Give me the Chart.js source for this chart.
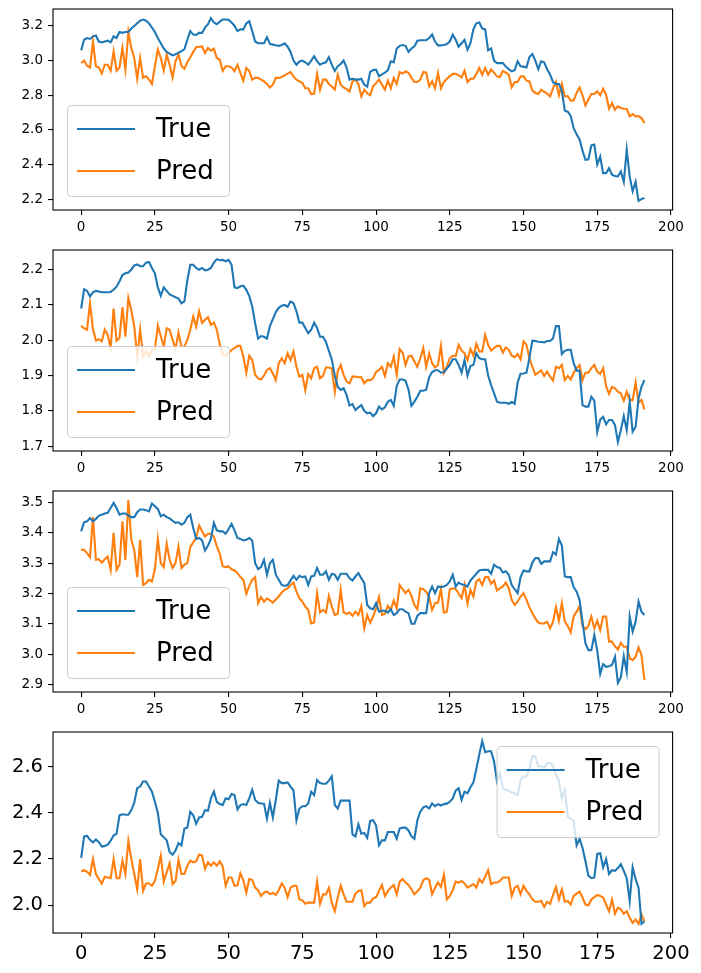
<!DOCTYPE html>
<html>
<head>
<meta charset="utf-8">
<script src="https://cdn.jsdelivr.net/npm/chart.js@4.4.1/dist/chart.umd.min.js"></script>
<style>
  html, body { margin: 0; padding: 0; background: #fff; }
  #fig { position: relative; width: 701px; height: 973px; overflow: hidden; }
  #fig canvas { position: absolute; left: 0; }
</style>
</head>
<body>
<div id="fig"></div>
<script>
// 192 time steps per panel
const steps = Array.from({ length: 192 }, (_, i) => i);
const xTicks = [0, 25, 50, 75, 100, 125, 150, 175, 200];

const yTicks1 = [2.2, 2.4, 2.6, 2.8, 3.0, 3.2];
const yTicks2 = [1.7, 1.8, 1.9, 2.0, 2.1, 2.2];
const yTicks3 = [2.9, 3.0, 3.1, 3.2, 3.3, 3.4, 3.5];
const yTicks4 = [2.0, 2.2, 2.4, 2.6];

const true1 = [
  3.06, 3.12, 3.13, 3.125, 3.14, 3.145, 3.11, 3.105, 3.11, 3.115,
  3.105, 3.14, 3.13, 3.165, 3.16, 3.165, 3.165, 3.185, 3.2, 3.215,
  3.23, 3.237, 3.23, 3.215, 3.19, 3.165, 3.13, 3.1, 3.07, 3.05,
  3.04, 3.03, 3.036, 3.045, 3.055, 3.065, 3.12, 3.17, 3.15, 3.148,
  3.16, 3.16, 3.19, 3.21, 3.245, 3.22, 3.21, 3.225, 3.237, 3.237,
  3.235, 3.22, 3.2, 3.17, 3.18, 3.18, 3.215, 3.227, 3.17, 3.11,
  3.1, 3.1, 3.1, 3.135, 3.096, 3.092, 3.088, 3.085, 3.09, 3.1,
  3.08, 3.05, 3.0, 2.976, 2.995, 3.0, 2.99, 2.976, 3.0, 3.025,
  2.996, 2.976, 2.985, 2.99, 3.02, 2.975, 2.94, 2.967, 2.98, 3.0,
  2.96, 2.89, 2.895, 2.89, 2.89, 2.895, 2.86, 2.85, 2.935, 2.945,
  2.948, 2.91, 2.92, 2.93, 2.945, 2.996, 2.99, 3.07, 3.085, 3.09,
  3.085, 3.05, 3.07, 3.082, 3.115, 3.117, 3.117, 3.118, 3.13, 3.15,
  3.11, 3.088, 3.088, 3.09, 3.095, 3.11, 3.15, 3.12, 3.08, 3.1,
  3.12, 3.063, 3.1, 3.18, 3.215, 3.22, 3.185, 3.18, 3.06, 3.07,
  3.0, 2.985, 2.985, 2.985, 2.965, 2.95, 2.938, 2.945, 2.996, 2.967,
  2.965, 2.96, 3.02, 3.038, 3.0, 2.95, 2.996, 2.99, 2.95, 2.92,
  2.875, 2.865, 2.865, 2.825, 2.71, 2.705, 2.68, 2.61, 2.575, 2.545,
  2.48, 2.427, 2.43, 2.51, 2.515, 2.4, 2.446, 2.35, 2.35, 2.378,
  2.341, 2.333, 2.331, 2.36, 2.3, 2.485, 2.33, 2.245, 2.3, 2.19,
  2.2, 2.206
];
const pred1 = [
  2.986, 3.0, 2.97, 2.96, 3.11, 2.967, 2.96, 2.925, 2.976, 2.976,
  2.942, 3.053, 2.942, 2.96, 3.073, 2.948, 3.165, 3.073, 3.015, 2.895,
  3.015, 2.9, 2.91, 2.89, 2.865, 2.967, 3.063, 3.015, 2.942, 3.034,
  2.976, 2.903, 2.996, 3.034, 2.97, 2.953, 2.99, 3.019, 3.05, 3.077,
  3.08, 3.082, 3.044, 3.073, 3.057, 3.069, 3.015, 3.005, 2.94, 2.967,
  2.967, 2.96, 2.938, 2.976, 2.928, 2.884, 2.957, 2.94, 2.89, 2.9,
  2.9, 2.89, 2.88, 2.865, 2.845, 2.861, 2.9, 2.9, 2.905, 2.915,
  2.925, 2.934, 2.909, 2.89, 2.88, 2.87, 2.84, 2.84, 2.807, 2.81,
  2.923, 2.832, 2.89, 2.89, 2.865, 2.85, 2.832, 2.919, 2.861, 2.845,
  2.835, 2.822, 2.88, 2.89, 2.865, 2.793, 2.832, 2.81, 2.8, 2.851,
  2.87, 2.89, 2.861, 2.832, 2.884, 2.84, 2.9, 2.865, 2.934, 2.925,
  2.938, 2.93, 2.9, 2.876, 2.876, 2.89, 2.934, 2.93, 2.851, 2.88,
  2.84, 2.928, 2.84, 2.876, 2.895, 2.909, 2.923, 2.923, 2.915, 2.903,
  2.942, 2.876, 2.895, 2.895, 2.923, 2.957, 2.919, 2.957, 2.919, 2.948,
  2.93, 2.909, 2.905, 2.94, 2.93, 2.919, 2.845, 2.876, 2.876, 2.909,
  2.909, 2.884, 2.88, 2.826, 2.813, 2.807, 2.832, 2.82, 2.81, 2.793,
  2.84, 2.876, 2.8, 2.865, 2.793, 2.795, 2.768, 2.77, 2.813, 2.845,
  2.8, 2.741, 2.775, 2.807, 2.807, 2.822, 2.8, 2.838, 2.803, 2.722,
  2.755, 2.716, 2.736, 2.726, 2.722, 2.72, 2.678, 2.691, 2.678, 2.68,
  2.668, 2.639
];

const true2 = [
  2.09, 2.145, 2.14, 2.124, 2.136, 2.14, 2.138, 2.136, 2.136, 2.136,
  2.137, 2.143, 2.152, 2.167, 2.185, 2.19, 2.192, 2.2, 2.212, 2.215,
  2.21, 2.21, 2.22, 2.222, 2.205, 2.19, 2.15, 2.126, 2.15, 2.14,
  2.13, 2.126, 2.122, 2.118, 2.105, 2.11, 2.17, 2.214, 2.214, 2.205,
  2.2, 2.205, 2.198, 2.2, 2.205, 2.22, 2.23, 2.227, 2.228, 2.224,
  2.228, 2.214, 2.15, 2.148, 2.153, 2.155, 2.143, 2.125, 2.096, 2.048,
  2.005, 2.012, 2.01, 2.005, 2.04, 2.06, 2.08, 2.092, 2.098, 2.1,
  2.095, 2.11, 2.105, 2.082, 2.05, 2.05, 2.035, 2.02, 2.03, 2.05,
  2.035, 2.01, 2.01, 1.995, 1.97, 1.945, 1.9, 1.868, 1.859, 1.864,
  1.845, 1.815, 1.819, 1.802, 1.81, 1.816, 1.8, 1.793, 1.795, 1.785,
  1.793, 1.812, 1.804, 1.81, 1.826, 1.831, 1.814, 1.87, 1.889, 1.889,
  1.885, 1.86, 1.814, 1.826, 1.84, 1.857, 1.857, 1.86, 1.895, 1.91,
  1.915, 1.915, 1.908, 1.91, 1.92, 1.93, 1.946, 1.946, 1.93, 1.908,
  1.944, 1.9, 1.927, 1.93, 1.963, 1.949, 1.946, 1.946, 1.9, 1.873,
  1.85, 1.826, 1.823, 1.823, 1.823, 1.82, 1.825, 1.82, 1.88, 1.905,
  1.906, 1.908, 1.95, 1.999, 1.998, 1.996, 1.995, 1.994, 1.998, 1.998,
  2.005, 2.04, 2.04, 1.961, 1.97, 1.973, 1.973, 1.935, 1.914, 1.914,
  1.816, 1.812, 1.812, 1.84, 1.829, 1.74, 1.775, 1.783, 1.762, 1.774,
  1.774, 1.76, 1.712, 1.745, 1.785, 1.745, 1.826, 1.741, 1.755, 1.835,
  1.868, 1.887
];
const pred2 = [
  2.041, 2.034, 2.03, 2.105, 2.031, 1.999, 2.003, 1.997, 2.03, 2.015,
  1.978, 2.09, 1.999, 2.006, 2.094, 2.01, 2.12, 2.085, 2.039, 1.954,
  2.03, 1.954, 1.968, 1.954, 1.973, 1.975, 2.041, 2.012, 1.982, 2.034,
  2.03, 2.001, 1.975, 2.022, 1.982, 1.982, 2.001, 2.03, 2.067, 2.039,
  2.082, 2.049, 2.058, 2.065, 2.044, 2.05, 2.03, 1.987, 1.96, 1.956,
  1.963, 1.973, 1.978, 1.984, 1.984, 1.954, 1.908, 1.956, 1.944, 1.902,
  1.892, 1.889, 1.9, 1.916, 1.921, 1.906, 1.887, 1.935, 1.949, 1.935,
  1.963, 1.944, 1.968, 1.925, 1.897, 1.902, 1.859, 1.904, 1.892, 1.921,
  1.925, 1.892, 1.899, 1.923, 1.923, 1.92, 1.854, 1.911, 1.93, 1.902,
  1.883, 1.878, 1.897, 1.897, 1.895, 1.895, 1.878, 1.887, 1.887, 1.892,
  1.91, 1.916, 1.925, 1.899, 1.935, 1.925, 1.954, 1.902, 1.975, 1.965,
  1.93, 1.954, 1.956, 1.94, 1.925, 1.949, 1.978, 1.925, 1.963, 1.935,
  1.923, 1.93, 1.984, 1.908, 1.925, 1.949, 1.956, 1.955, 1.987, 1.971,
  1.963, 1.944, 1.975, 1.956, 1.99, 1.968, 1.968, 2.015, 1.987, 1.971,
  1.978, 1.984, 1.984, 1.965, 1.98, 1.973, 1.956, 1.952, 1.961, 1.946,
  1.997, 1.987, 1.949, 1.925, 1.902, 1.908, 1.914, 1.899, 1.911, 1.897,
  1.886, 1.925, 1.921, 1.93, 1.887, 1.899, 1.889, 1.908, 1.921, 1.93,
  1.887, 1.908, 1.908, 1.921, 1.93, 1.911, 1.904, 1.921, 1.87, 1.848,
  1.868, 1.864, 1.854, 1.85, 1.829, 1.854, 1.831, 1.83, 1.88, 1.823,
  1.831, 1.804
];

const true3 = [
  3.405, 3.435, 3.438, 3.449, 3.438, 3.446, 3.457, 3.46, 3.464, 3.466,
  3.482, 3.499, 3.482, 3.46, 3.464, 3.464, 3.458, 3.452, 3.452, 3.468,
  3.477, 3.477, 3.475, 3.471, 3.497, 3.488, 3.479, 3.455, 3.46, 3.452,
  3.448, 3.44, 3.433, 3.435, 3.427, 3.433, 3.452, 3.46, 3.416, 3.38,
  3.383, 3.375, 3.342, 3.358, 3.38, 3.433, 3.408, 3.405, 3.405, 3.397,
  3.413, 3.43, 3.408, 3.383, 3.38, 3.375, 3.377, 3.383, 3.375, 3.3,
  3.28, 3.287, 3.311, 3.262, 3.3, 3.311, 3.262, 3.245, 3.228, 3.225,
  3.228, 3.243, 3.258, 3.245, 3.258, 3.254, 3.256, 3.228, 3.256, 3.258,
  3.284, 3.262, 3.262, 3.273, 3.245, 3.265, 3.262, 3.245, 3.265, 3.265,
  3.265, 3.25, 3.243, 3.256, 3.267, 3.25, 3.234, 3.162, 3.151, 3.148,
  3.168, 3.14, 3.143, 3.143, 3.137, 3.148, 3.129, 3.135, 3.148, 3.148,
  3.14, 3.135, 3.1, 3.1, 3.126, 3.135, 3.135, 3.135, 3.201, 3.223,
  3.201, 3.223, 3.221, 3.223, 3.228, 3.24, 3.262, 3.223, 3.236, 3.23,
  3.228, 3.223, 3.243, 3.254, 3.265, 3.276, 3.278, 3.278, 3.278, 3.265,
  3.295, 3.287, 3.284, 3.269, 3.273, 3.262, 3.228, 3.214, 3.201, 3.254,
  3.276, 3.273, 3.273, 3.302, 3.317, 3.317, 3.298, 3.306, 3.306, 3.306,
  3.336, 3.328, 3.38, 3.358, 3.256, 3.254, 3.254, 3.221, 3.206, 3.179,
  3.107, 3.035, 3.013, 3.013, 3.063, 3.011, 2.934, 2.967, 2.958, 2.96,
  2.964, 2.991, 2.905, 2.923, 2.993, 2.941, 3.124, 3.074, 3.107, 3.173,
  3.14, 3.129
];
const pred3 = [
  3.344, 3.344, 3.333, 3.32, 3.452, 3.311, 3.313, 3.302, 3.313, 3.322,
  3.278, 3.4, 3.278, 3.295, 3.438, 3.311, 3.508, 3.377, 3.344, 3.254,
  3.377, 3.228, 3.234, 3.245, 3.24, 3.28, 3.38, 3.3, 3.287, 3.364,
  3.311, 3.284, 3.3, 3.355, 3.284, 3.295, 3.3, 3.353, 3.369, 3.383,
  3.424, 3.405, 3.388, 3.397, 3.397, 3.388, 3.355, 3.331, 3.29, 3.287,
  3.289, 3.28, 3.276, 3.267, 3.254, 3.245, 3.199, 3.225, 3.245, 3.254,
  3.168, 3.188, 3.173, 3.184, 3.177, 3.17, 3.18, 3.19, 3.203, 3.212,
  3.217, 3.228, 3.236, 3.206, 3.184, 3.173, 3.157, 3.146, 3.101, 3.104,
  3.201, 3.137, 3.146, 3.137, 3.192, 3.157, 3.129, 3.133, 3.212, 3.137,
  3.133, 3.137, 3.126, 3.14, 3.129, 3.159, 3.085, 3.129, 3.104, 3.124,
  3.151, 3.188, 3.129, 3.133, 3.159, 3.146, 3.177, 3.151, 3.228, 3.214,
  3.201, 3.212, 3.192, 3.162, 3.148, 3.217, 3.214, 3.206, 3.188, 3.146,
  3.168, 3.17, 3.214, 3.137, 3.14, 3.214, 3.217, 3.214, 3.2, 3.184,
  3.228, 3.166, 3.212, 3.19, 3.24, 3.247, 3.228, 3.254, 3.254, 3.232,
  3.243, 3.21, 3.217, 3.223, 3.236, 3.217, 3.179, 3.162, 3.173, 3.19,
  3.201, 3.179, 3.155, 3.135, 3.118, 3.104, 3.101, 3.101, 3.107, 3.085,
  3.107, 3.155, 3.11, 3.168, 3.107, 3.093, 3.071, 3.124, 3.14, 3.159,
  3.093, 3.082, 3.093, 3.124, 3.085, 3.11, 3.079, 3.124, 3.124, 3.041,
  3.041, 3.026, 3.015, 3.037, 3.024, 3.024, 2.986, 2.98, 2.991, 3.022,
  2.997, 2.914
];

const true4 = [
  2.205, 2.298, 2.3, 2.283, 2.272, 2.285, 2.273, 2.254, 2.257, 2.262,
  2.28, 2.302, 2.31, 2.39, 2.394, 2.392, 2.392, 2.412, 2.444, 2.507,
  2.514, 2.536, 2.536, 2.514, 2.492, 2.448, 2.4, 2.307, 2.295, 2.281,
  2.23, 2.219, 2.237, 2.269, 2.259, 2.332, 2.336, 2.405, 2.39, 2.353,
  2.38, 2.383, 2.412, 2.409, 2.463, 2.492, 2.448, 2.438, 2.434, 2.463,
  2.459, 2.482, 2.477, 2.415, 2.434, 2.438, 2.434, 2.463, 2.5, 2.456,
  2.444, 2.441, 2.44, 2.375, 2.444, 2.38, 2.456, 2.54, 2.529, 2.529,
  2.532, 2.514, 2.497, 2.368, 2.419, 2.429, 2.429, 2.441, 2.492, 2.477,
  2.543, 2.529, 2.526, 2.526, 2.54, 2.558, 2.434, 2.419, 2.453, 2.453,
  2.453, 2.453, 2.307, 2.298, 2.35, 2.31, 2.313, 2.292, 2.365, 2.368,
  2.346, 2.259, 2.281, 2.281, 2.317, 2.317, 2.317, 2.288, 2.332, 2.336,
  2.336, 2.324, 2.298, 2.288, 2.368, 2.405, 2.424, 2.429, 2.419, 2.441,
  2.429, 2.438, 2.432, 2.438, 2.44, 2.448, 2.463, 2.497, 2.507, 2.456,
  2.492, 2.485, 2.511, 2.532, 2.59, 2.653, 2.711, 2.663, 2.667, 2.667,
  2.623, 2.536, 2.572, 2.507, 2.5, 2.497, 2.488, 2.485, 2.477, 2.543,
  2.558, 2.558, 2.59, 2.645, 2.645, 2.602, 2.602, 2.594, 2.616, 2.616,
  2.605, 2.565, 2.54, 2.463, 2.5, 2.383, 2.375, 2.365, 2.259, 2.288,
  2.249, 2.19, 2.128, 2.117, 2.12, 2.222, 2.225, 2.164, 2.2, 2.135,
  2.152, 2.149, 2.161, 2.178, 2.149, 2.117, 2.018, 2.164, 2.113, 2.076,
  1.919, 1.93
];
const pred4 = [
  2.146, 2.152, 2.145, 2.132, 2.2, 2.135, 2.113, 2.094, 2.123, 2.12,
  2.117, 2.2, 2.117, 2.117, 2.193, 2.135, 2.278, 2.2, 2.135, 2.069,
  2.2, 2.062, 2.094, 2.094, 2.084, 2.105, 2.157, 2.215, 2.102, 2.142,
  2.181, 2.091, 2.105, 2.196, 2.135, 2.135, 2.171, 2.193, 2.186, 2.19,
  2.219, 2.215, 2.157, 2.186, 2.171, 2.186, 2.171, 2.19, 2.167, 2.084,
  2.12, 2.12, 2.084, 2.086, 2.138, 2.108, 2.054, 2.113, 2.11, 2.076,
  2.065, 2.04, 2.054, 2.059, 2.047, 2.054, 2.044, 2.065, 2.094, 2.076,
  2.035, 2.076, 2.084, 2.084, 2.025, 2.021, 2.006, 2.011, 2.011, 2.011,
  2.102, 2.006, 2.047, 2.047, 2.076, 2.011, 1.974, 2.033, 2.084, 2.047,
  2.015, 2.015, 2.015, 2.05, 2.062, 2.065, 1.996, 2.011, 2.011, 2.03,
  2.035, 2.062, 2.088, 2.04, 2.062, 2.076, 2.088, 2.047, 2.102, 2.113,
  2.098, 2.088, 2.069, 2.047, 2.06, 2.076, 2.108, 2.117, 2.11, 2.047,
  2.076, 2.098, 2.079, 2.132, 2.025, 2.04, 2.065, 2.102, 2.098, 2.105,
  2.094, 2.076, 2.084, 2.091, 2.076, 2.113, 2.098, 2.123, 2.152, 2.091,
  2.098, 2.098, 2.105, 2.12, 2.12, 2.12, 2.04, 2.076, 2.084, 2.047,
  2.084, 2.062, 2.047, 2.025, 2.015, 2.015, 2.018, 1.992, 2.015, 2.006,
  2.044, 2.079, 2.025, 2.069, 2.015, 2.018, 2.003, 2.04, 2.05, 2.059,
  2.033, 2.003, 2.0, 2.025, 2.035, 2.044, 2.04, 2.033, 2.003, 1.974,
  2.025, 1.963, 1.989, 1.982, 1.963, 1.974, 1.945, 1.923, 1.938, 1.919,
  1.96, 1.93
];

const FONT = '"DejaVu Sans", "Liberation Sans", sans-serif';
const BLUE = '#1f77b4';
const ORANGE = '#ff7f0e';

// frame around the axes + matplotlib-style legend box
const axesDecor = {
  id: 'axesDecor',
  afterDatasetsDraw(chart, args, opts) {
    const { ctx, chartArea: a } = chart;
    const w = 162, h = 91, off = 14;
    const x0 = opts.corner === 'upperRight' ? a.right - off - w : a.left + off;
    const y0 = opts.corner === 'upperRight' ? a.top + off : a.bottom - off - h;
    ctx.save();
    ctx.beginPath();
    ctx.roundRect(x0 + 0.5, y0 + 0.5, w, h, 4);
    ctx.fillStyle = 'rgba(255,255,255,0.8)';
    ctx.fill();
    ctx.strokeStyle = '#cccccc';
    ctx.lineWidth = 1;
    ctx.stroke();
    ctx.font = '26px ' + FONT;
    ctx.textBaseline = 'middle';
    chart.data.datasets.forEach((ds, k) => {
      const y = y0 + 24 + 42 * k;
      ctx.beginPath();
      ctx.moveTo(x0 + 10, y);
      ctx.lineTo(x0 + 68, y);
      ctx.strokeStyle = ds.borderColor;
      ctx.lineWidth = 2.1;
      ctx.stroke();
      ctx.fillStyle = '#000';
      ctx.fillText(ds.label, x0 + 89, y + 1);
    });
    ctx.strokeStyle = '#000';
    ctx.lineWidth = 1.1;
    ctx.strokeRect(a.left, a.top, a.right - a.left, a.bottom - a.top);
    ctx.restore();
  }
};

const panels = [
  { top: 9, trueVals: true1, predVals: pred1, yTicks: yTicks1, corner: 'lowerLeft', tick: 13.5, xh: 30 },
  { top: 250, trueVals: true2, predVals: pred2, yTicks: yTicks2, corner: 'lowerLeft', tick: 13.5, xh: 30 },
  { top: 491, trueVals: true3, predVals: pred3, yTicks: yTicks3, corner: 'lowerLeft', tick: 13.5, xh: 30 },
  { top: 732, trueVals: true4, predVals: pred4, yTicks: yTicks4, corner: 'upperRight', tick: 19.5, xh: 40 }
];

// top padding is kept larger than the y-axis label overhang so the plot box stays put
const BOX_H = 201, AXIS_W = 53, PAD_TOP = 22, PAD_RIGHT = 28.4;
const fig = document.getElementById('fig');
const xPad = 0.05 * (steps.length - 1);

panels.forEach(p => {
  const cv = document.createElement('canvas');
  const H = PAD_TOP + BOX_H + p.xh;
  cv.width = 701;
  cv.height = H;
  cv.style.width = '701px';
  cv.style.height = H + 'px';
  cv.style.top = (p.top - PAD_TOP) + 'px';
  fig.appendChild(cv);

  const all = p.trueVals.concat(p.predVals);
  const lo = Math.min(...all), hi = Math.max(...all);
  const yPad = 0.05 * (hi - lo);
  const tickFont = { family: FONT, size: p.tick };
  const gridOpts = {
    drawOnChartArea: false, drawTicks: true, tickLength: 5,
    tickColor: '#000', tickWidth: 1.1, color: '#000', lineWidth: 1.1
  };

  new Chart(cv.getContext('2d'), {
    type: 'line',
    data: {
      datasets: [
        { label: 'True', data: steps.map(i => ({ x: i, y: p.trueVals[i] })), borderColor: BLUE, borderWidth: 2.1 },
        { label: 'Pred', data: steps.map(i => ({ x: i, y: p.predVals[i] })), borderColor: ORANGE, borderWidth: 2.1 }
      ]
    },
    options: {
      responsive: false,
      animation: false,
      devicePixelRatio: 1,
      layout: { padding: { top: PAD_TOP, right: PAD_RIGHT, left: 0, bottom: 0 } },
      elements: { point: { radius: 0 }, line: { tension: 0 } },
      plugins: {
        legend: { display: false },
        tooltip: { enabled: false },
        axesDecor: { corner: p.corner }
      },
      scales: {
        x: {
          type: 'linear',
          min: -xPad,
          max: steps.length - 1 + xPad,
          afterBuildTicks: s => { s.ticks = xTicks.map(v => ({ value: v })); },
          afterFit: s => { s.height = p.xh; },
          grid: gridOpts,
          border: { display: false },
          ticks: { font: tickFont, color: '#000', padding: 4, maxRotation: 0, autoSkip: false, callback: v => String(v) }
        },
        y: {
          min: lo - yPad,
          max: hi + yPad,
          afterBuildTicks: s => { s.ticks = p.yTicks.map(v => ({ value: v })); },
          afterFit: s => { s.width = AXIS_W; },
          grid: gridOpts,
          border: { display: false },
          ticks: { font: tickFont, color: '#000', padding: 5, autoSkip: false, callback: v => v.toFixed(1) }
        }
      }
    },
    plugins: [axesDecor]
  });
});
</script>
</body>
</html>
